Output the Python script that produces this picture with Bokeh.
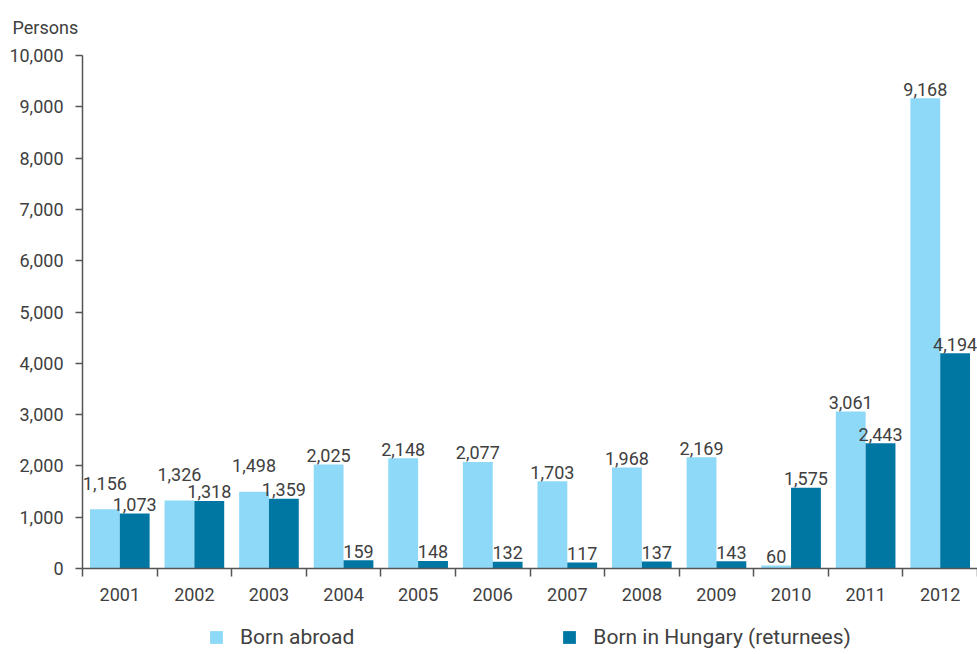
from bokeh.plotting import figure
from bokeh.layouts import column
from bokeh.models import (Range1d, FixedTicker, ColumnDataSource, Legend, LegendItem,
                          NumeralTickFormatter, Title)
from bokeh.core.properties import value
from bokeh.embed import file_html
from bokeh.resources import INLINE
import numpy as np

years = ["2001", "2002", "2003", "2004", "2005", "2006", "2007", "2008", "2009", "2010", "2011", "2012"]
born_abroad = [1156, 1326, 1498, 2025, 2148, 2077, 1703, 1968, 2169, 60, 3061, 9168]
born_hungary = [1073, 1318, 1359, 159, 148, 132, 117, 137, 143, 1575, 2443, 4194]
y_ticks = list(range(0, 10001, 1000))
series_names = ["Born abroad", "Born in Hungary (returnees)"]

FONT = "Roboto"
TXT = "#404040"
LIGHT = "#8ed8f8"
DARK = "#0077a3"
AXIS = "#555555"

W = 977
H_MAIN = 620
TOP, BOTTOM, LEFT = 55, 52, 82
frame_h = H_MAIN - TOP - BOTTOM
px_per_unit = frame_h / 10000.0

n = len(years)
idx = np.arange(n)

# value-label placement: lift the taller label when the two labels of a pair would collide
gap = 9
off_a, off_h = [], []
for a, h in zip(born_abroad, born_hungary):
    oa, oh = -gap, -gap
    if abs(a - h) * px_per_unit < 18:
        if a >= h:
            oa -= 17
        else:
            oh -= 17
    off_a.append(oa)
    off_h.append(oh)

src = ColumnDataSource(dict(
    xa=idx + 0.3, xh=idx + 0.7,
    a=born_abroad, h=born_hungary,
    la=[f"{v:,}" for v in born_abroad], lh=[f"{v:,}" for v in born_hungary],
    oa=off_a, oh=off_h,
))

p = figure(width=W, height=H_MAIN, output_backend="svg", toolbar_location=None,
           x_range=Range1d(0, n), y_range=Range1d(0, 10000),
           min_border_left=LEFT, min_border_right=0, min_border_top=TOP, min_border_bottom=BOTTOM)
p.outline_line_color = None
p.grid.grid_line_color = None

p.add_layout(Title(text="Persons", align="left", offset=-70, standoff=32, vertical_align="top",
                   text_font=FONT, text_font_size="18px", text_font_style="normal",
                   text_color=TXT), "above")

p.vbar(x="xa", top="a", width=0.4, source=src, color=LIGHT, line_color=None)
p.vbar(x="xh", top="h", width=0.4, source=src, color=DARK, line_color=None)

for xcol, ycol, lcol, ocol in (("xa", "a", "la", "oa"), ("xh", "h", "lh", "oh")):
    p.text(x=xcol, y=ycol, text=lcol, y_offset=ocol, source=src, text_align="center",
           text_baseline="alphabetic", text_font=value(FONT), text_font_size="18px",
           text_color=TXT)

# y axis
ya = p.yaxis[0]
ya.ticker = FixedTicker(ticks=y_ticks)
ya.formatter = NumeralTickFormatter(format="0,0")
ya.axis_line_color = AXIS
ya.axis_line_width = 1.5
ya.major_tick_line_color = AXIS
ya.major_tick_line_width = 1.5
ya.major_tick_in = 0
ya.major_tick_out = 7
ya.minor_tick_line_color = None
ya.major_label_standoff = 12
ya.major_label_text_font = FONT
ya.major_label_text_font_size = "18px"
ya.major_label_text_color = TXT

# x axis
xa = p.xaxis[0]
xa.ticker = FixedTicker(ticks=list(idx + 0.5), minor_ticks=list(range(0, n + 1)))
xa.major_label_overrides = {float(i + 0.5): y for i, y in enumerate(years)}
xa.axis_line_color = AXIS
xa.axis_line_width = 1.5
xa.major_tick_line_color = None
xa.minor_tick_line_color = AXIS
xa.minor_tick_line_width = 1.5
xa.minor_tick_in = 0
xa.minor_tick_out = 8
xa.major_label_standoff = 11
xa.major_label_text_font = FONT
xa.major_label_text_font_size = "18px"
xa.major_label_text_color = TXT

# legend strip (same series, placed outside this strip's visible ranges; only the key shows)
H_LEG = 654 - H_MAIN
q = figure(width=W, height=H_LEG, output_backend="svg", toolbar_location=None,
           x_range=Range1d(-101, -100), y_range=Range1d(-2, -1),
           min_border=0, min_border_left=LEFT, min_border_right=0, min_border_top=0, min_border_bottom=0)
q.axis.visible = False
q.grid.grid_line_color = None
q.outline_line_color = None
ka = q.vbar(x="xa", top="a", width=0.4, source=src, color=LIGHT, line_color=None)
kh = q.vbar(x="xh", top="h", width=0.4, source=src, color=DARK, line_color=None)
legend = Legend(items=[LegendItem(label=series_names[0], renderers=[ka]),
                       LegendItem(label=series_names[1], renderers=[kh])],
                orientation="horizontal", location=(126, 5), spacing=207,
                glyph_width=16, glyph_height=16, label_standoff=16, label_height=16,
                label_text_font=FONT, label_text_font_size="21px", label_text_color=TXT,
                label_text_baseline="middle",
                border_line_color=None, background_fill_alpha=0, padding=0, margin=0)
q.add_layout(legend, "center")

layout = column(p, q, spacing=0)
open("out.html", "w").write(file_html(layout, INLINE))
